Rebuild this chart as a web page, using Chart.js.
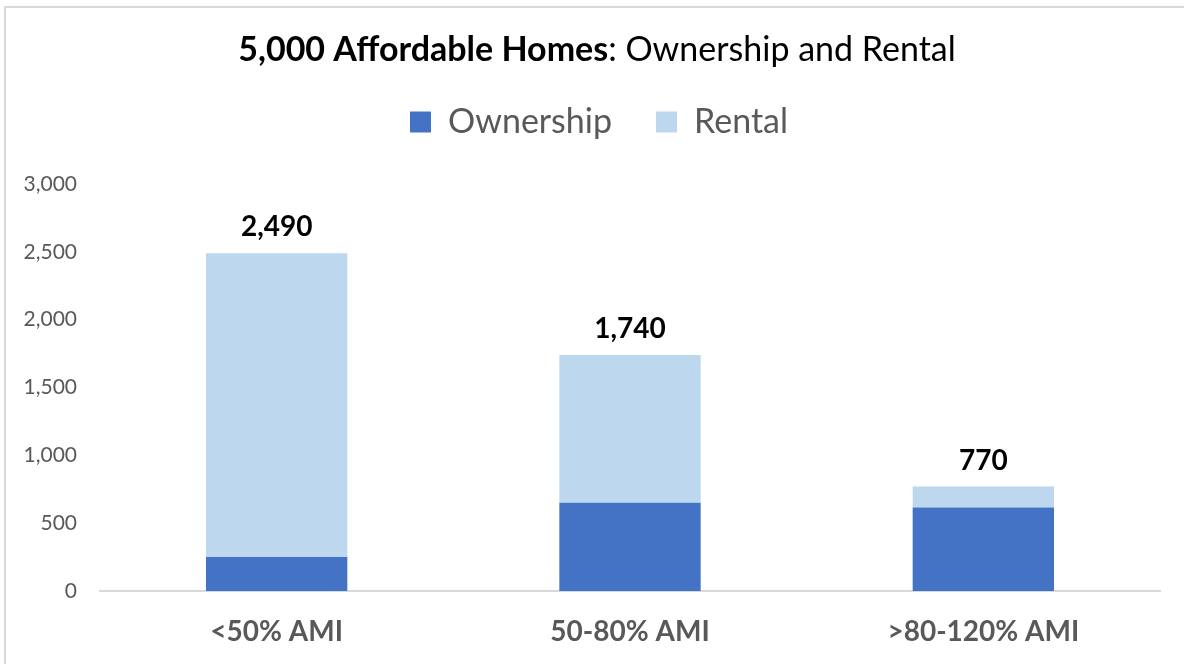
<!DOCTYPE html>
<html>
<head>
<meta charset="utf-8">
<script src="https://cdn.jsdelivr.net/npm/chart.js@4"></script>
<style>
  html, body { margin: 0; padding: 0; background: #fff; }
  #wrap { position: relative; width: 1184px; height: 664px; overflow: hidden; }
  #frame { position: absolute; left: 4px; top: 6px; width: 1200px; height: 700px;
           border-left: 2px solid #d9d9d9; border-top: 2px solid #d9d9d9; }
  canvas { position: absolute; left: 0; top: 0; }
</style>
</head>
<body>
<div id="wrap">
  <div id="frame"></div>
  <canvas id="homesChart" width="1184" height="664"></canvas>
</div>
<script>
// ── data ─────────────────────────────
const categories = ['<50% AMI', '50-80% AMI', '>80-120% AMI'];
const ownership = [250, 650, 615];
const rental = [2240, 1090, 155];
const yMax = 3000;
const yStep = 500;

const FONT = "Lato, 'Open Sans', sans-serif";
const GREY = '#595959';

// title with a bold first part
const titlePlugin = {
  id: 'mixedTitle',
  afterDraw(chart) {
    const ctx = chart.ctx;
    const bold = '5,000 Affordable Homes';
    const rest = ': Ownership and Rental';
    ctx.save();
    ctx.textBaseline = 'middle';
    ctx.fillStyle = '#000';
    ctx.font = 'bold 34px ' + FONT;
    const wb = ctx.measureText(bold).width;
    ctx.font = '34px ' + FONT;
    const wr = ctx.measureText(rest).width;
    const x0 = 597 - (wb + wr) / 2;
    ctx.font = 'bold 34px ' + FONT;
    ctx.fillText(bold, x0, 50);
    ctx.font = '34px ' + FONT;
    ctx.fillText(rest, x0 + wb, 50);
    ctx.restore();
  }
};

// legend box gets a fixed height so the plot starts lower,
// and is nudged right to sit centred on the whole frame
const legendPlace = {
  id: 'legendPlace',
  beforeInit(chart) {
    const fit = chart.legend.fit;
    chart.legend.fit = function () {
      fit.call(this);
      this.height = 123;
    };
  },
  afterLayout(chart) {
    chart.legend.left += 19;
    chart.legend.right += 19;
  }
};

// totals above each stack
const totalsPlugin = {
  id: 'totals',
  afterDatasetsDraw(chart) {
    const ctx = chart.ctx;
    const top = chart.getDatasetMeta(1).data;
    ctx.save();
    ctx.font = 'bold 28px ' + FONT;
    ctx.fillStyle = '#000';
    ctx.textAlign = 'center';
    ctx.textBaseline = 'middle';
    categories.forEach((c, i) => {
      const total = ownership[i] + rental[i];
      ctx.fillText(total.toLocaleString('en-US'), top[i].x, top[i].y - 26);
    });
    ctx.restore();
  }
};

new Chart(document.getElementById('homesChart'), {
  type: 'bar',
  data: {
    labels: categories,
    datasets: [
      { label: 'Ownership', data: ownership, backgroundColor: '#4472C4' },
      { label: 'Rental', data: rental, backgroundColor: '#BDD7EE' }
    ]
  },
  options: {
    responsive: false,
    animation: false,
    devicePixelRatio: 1,
    categoryPercentage: 1,
    barPercentage: 0.4,
    layout: { padding: { top: 61, right: 24, left: 0, bottom: 0 } },
    plugins: {
      title: { display: false },
      tooltip: { enabled: false },
      legend: {
        position: 'top',
        labels: {
          font: { family: FONT, size: 34 },
          color: GREY,
          boxWidth: 21,
          boxHeight: 21,
          padding: 44
        }
      }
    },
    scales: {
      x: {
        stacked: true,
        grid: { display: false, drawTicks: false },
        border: { color: '#d9d9d9', width: 2 },
        ticks: { font: { family: FONT, size: 28, weight: 'bold' }, color: GREY, padding: 24 },
        afterFit: s => { s.height = 73; }
      },
      y: {
        stacked: true,
        min: 0,
        max: yMax,
        grid: { display: false, drawTicks: false },
        border: { display: false },
        ticks: {
          stepSize: yStep,
          font: { family: FONT, size: 21 },
          color: GREY,
          padding: 23,
          callback: v => v.toLocaleString('en-US')
        },
        afterFit: s => { s.width = 100; }
      }
    }
  },
  plugins: [titlePlugin, legendPlace, totalsPlugin]
});
</script>
</body>
</html>
